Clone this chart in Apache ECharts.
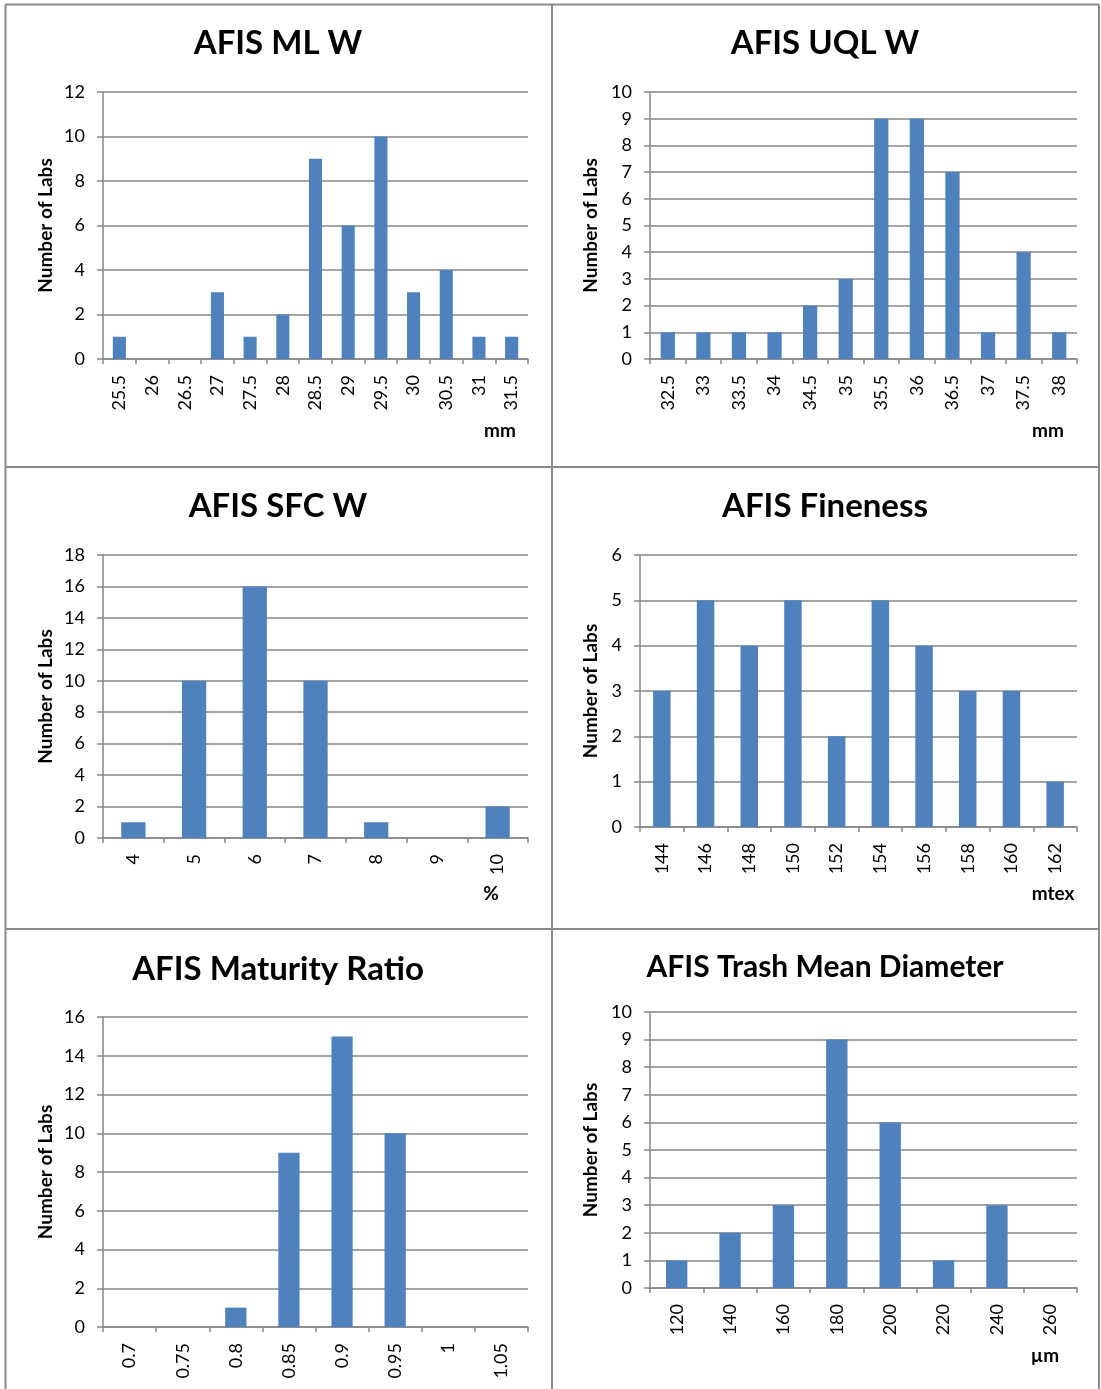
<!DOCTYPE html>
<html>
<head>
<meta charset="utf-8">
<script src="https://cdn.jsdelivr.net/npm/echarts@6/dist/echarts.min.js"></script>
<style>
  html, body { margin: 0; padding: 0; background: #fff; }
  #chart { width: 1101px; height: 1389px; }
</style>
</head>
<body>
<div id="chart"></div>
<script>
// AFIS inter-laboratory results: number of labs per reported value

const mlCats   = ['25.5','26','26.5','27','27.5','28','28.5','29','29.5','30','30.5','31','31.5'];
const mlLabs   = [1, 0, 0, 3, 1, 2, 9, 6, 10, 3, 4, 1, 1];

const uqlCats  = ['32.5','33','33.5','34','34.5','35','35.5','36','36.5','37','37.5','38'];
const uqlLabs  = [1, 1, 1, 1, 2, 3, 9, 9, 7, 1, 4, 1];

const sfcCats  = ['4','5','6','7','8','9','10'];
const sfcLabs  = [1, 10, 16, 10, 1, 0, 2];

const finCats  = ['144','146','148','150','152','154','156','158','160','162'];
const finLabs  = [3, 5, 4, 5, 2, 5, 4, 3, 3, 1];

const matCats  = ['0.7','0.75','0.8','0.85','0.9','0.95','1','1.05'];
const matLabs  = [0, 0, 1, 9, 15, 10, 0, 0];

const trashCats = ['120','140','160','180','200','220','240','260'];
const trashLabs = [1, 2, 3, 9, 6, 1, 3, 0];

const panelTitles = ['AFIS ML W', 'AFIS UQL W', 'AFIS SFC W', 'AFIS Fineness', 'AFIS Maturity Ratio', 'AFIS Trash Mean Diameter'];
const unitLabels  = ['mm', 'mm', '%', 'mtex', null, 'µm'];
const yMax        = [12, 10, 18, 6, 16, 10];
const yStep       = [2, 1, 2, 1, 2, 1];

const FONT = 'Lato, "Open Sans", sans-serif';
const BAR = '#4F81BD';
const LINE = '#868686';

const panels = [
  { cats: mlCats,    vals: mlLabs,    grid: { left: 103, top: 92,   width: 425, height: 267 }, nameGap: 48, title: { x: 278, y: 27,  size: 33 }, unit: { x: 500,  y: 421 } },
  { cats: uqlCats,   vals: uqlLabs,   grid: { left: 650, top: 92,   width: 427, height: 267 }, nameGap: 50, title: { x: 825, y: 27,  size: 33 }, unit: { x: 1048, y: 421 } },
  { cats: sfcCats,   vals: sfcLabs,   grid: { left: 103, top: 555,  width: 425, height: 283 }, nameGap: 48, title: { x: 278, y: 490, size: 33 }, unit: { x: 491,  y: 884 } },
  { cats: finCats,   vals: finLabs,   grid: { left: 640, top: 555,  width: 437, height: 272 }, nameGap: 40, title: { x: 825, y: 490, size: 33 }, unit: { x: 1053, y: 884 } },
  { cats: matCats,   vals: matLabs,   grid: { left: 103, top: 1017, width: 425, height: 310 }, nameGap: 48, title: { x: 278, y: 953, size: 33 }, unit: null },
  { cats: trashCats, vals: trashLabs, grid: { left: 650, top: 1012, width: 427, height: 276 }, nameGap: 50, title: { x: 825, y: 952, size: 30 }, unit: { x: 1045, y: 1346 } }
];

const grids = [], xAxes = [], yAxes = [], series = [], titles = [];

panels.forEach((p, i) => {
  grids.push(Object.assign({ containLabel: false }, p.grid));

  xAxes.push({
    type: 'category',
    gridIndex: i,
    data: p.cats,
    boundaryGap: true,
    axisLine: { show: true, lineStyle: { color: LINE, width: 1.5 } },
    axisTick: { show: true, length: 5, alignWithLabel: false, lineStyle: { color: LINE, width: 1.5 } },
    axisLabel: { interval: 0, rotate: 90, margin: 16, color: '#000', fontFamily: FONT, fontSize: 18 },
    splitLine: { show: false }
  });

  yAxes.push({
    type: 'value',
    gridIndex: i,
    min: 0,
    max: yMax[i],
    interval: yStep[i],
    name: 'Number of Labs',
    nameLocation: 'middle',
    nameRotate: 90,
    nameGap: p.nameGap,
    nameTextStyle: { color: '#000', fontFamily: FONT, fontSize: 19, fontWeight: 'bold' },
    axisLine: { show: true, lineStyle: { color: LINE, width: 1.5 } },
    axisTick: { show: true, length: 6, lineStyle: { color: LINE, width: 1.5 } },
    axisLabel: { margin: 18, color: '#000', fontFamily: FONT, fontSize: 18 },
    splitLine: { show: true, lineStyle: { color: LINE, width: 1.5 } }
  });

  series.push({
    type: 'bar',
    xAxisIndex: i,
    yAxisIndex: i,
    data: p.vals,
    barCategoryGap: '60%',
    itemStyle: { color: BAR },
    emphasis: { disabled: true },
    animation: false
  });

  titles.push({
    text: panelTitles[i],
    left: p.title.x,
    top: p.title.y,
    padding: 0,
    textAlign: 'center',
    textStyle: { color: '#000', fontFamily: FONT, fontWeight: 'bold', fontSize: p.title.size }
  });

  if (p.unit && unitLabels[i]) {
    titles.push({
      text: unitLabels[i],
      left: p.unit.x,
      top: p.unit.y,
      padding: 0,
      textAlign: 'center',
      textStyle: { color: '#000', fontFamily: FONT, fontWeight: 'bold', fontSize: 19 }
    });
  }
});

// Panel frame lines
const frame = { stroke: '#8a8a8a', lineWidth: 2 };
const graphic = [
  { type: 'line', shape: { x1: 5.5, y1: 4.5, x2: 5.5, y2: 1389 }, style: frame, silent: true },
  { type: 'line', shape: { x1: 552, y1: 4.5, x2: 552, y2: 1389 }, style: frame, silent: true },
  { type: 'line', shape: { x1: 1099, y1: 4.5, x2: 1099, y2: 1389 }, style: frame, silent: true },
  { type: 'line', shape: { x1: 5.5, y1: 4.5, x2: 1099, y2: 4.5 }, style: frame, silent: true },
  { type: 'line', shape: { x1: 5.5, y1: 467, x2: 1099, y2: 467 }, style: frame, silent: true },
  { type: 'line', shape: { x1: 5.5, y1: 929, x2: 1099, y2: 929 }, style: frame, silent: true }
];

const chart = echarts.init(document.getElementById('chart'), null, { renderer: 'canvas' });
chart.setOption({
  backgroundColor: '#fff',
  animation: false,
  title: titles,
  grid: grids,
  xAxis: xAxes,
  yAxis: yAxes,
  series: series,
  graphic: graphic
});
</script>
</body>
</html>
